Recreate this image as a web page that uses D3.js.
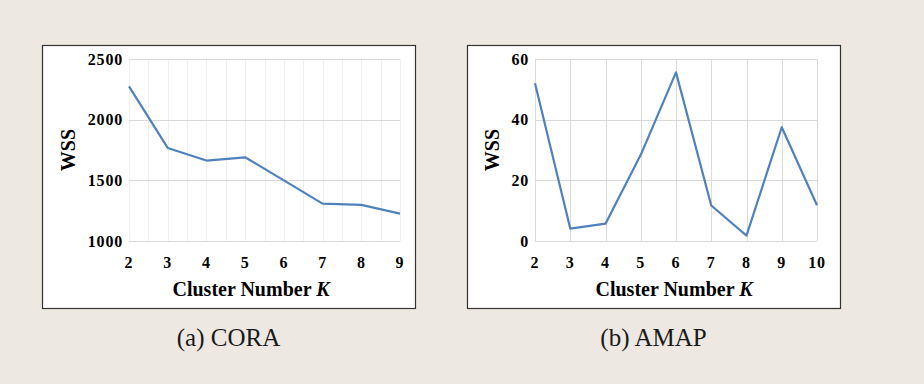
<!DOCTYPE html>
<html lang="en">
<head>
<meta charset="UTF-8">
<script src="https://d3js.org/d3.v7.min.js"></script>
<style>
  body { margin: 0; background: #ede9e2; }
  svg { display: block; }
</style>
</head>
<body>
<div id="chart"></div>
<script>
// data
const coraK = [2, 3, 4, 5, 6, 7, 8, 9];
const coraWSS = [2275, 1767, 1663, 1690, 1500, 1308, 1298, 1226];
const coraYTicks = [1000, 1500, 2000, 2500];

const amapK = [2, 3, 4, 5, 6, 7, 8, 9, 10];
const amapWSS = [52, 4.1, 5.7, 28.4, 55.6, 11.7, 1.8, 37.5, 11.8];
const amapYTicks = [0, 20, 40, 60];

const W = 924, H = 384;
const serif = "'Liberation Serif', 'Times New Roman', serif";
const svg = d3.select("#chart").append("svg")
  .attr("width", W).attr("height", H);

svg.append("rect").attr("width", W).attr("height", H).attr("fill", "#ede9e2");

function panel(opt) {
  const g = svg.append("g");

  // white framed box
  g.append("rect")
    .attr("x", opt.box[0] + 0.5).attr("y", opt.box[1] + 0.5)
    .attr("width", opt.box[2]).attr("height", opt.box[3])
    .attr("fill", "#fff").attr("stroke", "#333").attr("stroke-width", 1.2);

  const x = d3.scaleLinear().domain(d3.extent(opt.k)).range([opt.plot[0], opt.plot[1]]);
  const y = d3.scaleLinear().domain(d3.extent(opt.yTicks)).range([opt.plot[3], opt.plot[2]]);

  // vertical grid
  const vTicks = d3.range(x.domain()[0], x.domain()[1] + 0.001, opt.vStep);
  g.append("g").selectAll("line").data(vTicks).join("line")
    .attr("x1", d => Math.round(x(d)) + 0.5).attr("x2", d => Math.round(x(d)) + 0.5)
    .attr("y1", y.range()[1]).attr("y2", y.range()[0])
    .attr("stroke", opt.vColor).attr("stroke-width", 1);

  // horizontal grid
  g.append("g").selectAll("line").data(opt.yTicks).join("line")
    .attr("x1", x.range()[0]).attr("x2", x.range()[1])
    .attr("y1", d => Math.round(y(d)) + 0.5).attr("y2", d => Math.round(y(d)) + 0.5)
    .attr("stroke", "#d9d9d9").attr("stroke-width", 1);

  // y tick labels
  g.append("g").selectAll("text").data(opt.yTicks).join("text")
    .attr("x", x.range()[0] - 6).attr("y", d => y(d) + 5.5)
    .attr("text-anchor", "end")
    .style("font-family", serif)
    .style("font-weight", "bold").style("font-size", "16px")
    .style("letter-spacing", "0.8px")
    .attr("fill", "#000")
    .text(d => d);

  // x tick labels
  g.append("g").selectAll("text").data(opt.k).join("text")
    .attr("x", d => x(d)).attr("y", y.range()[0] + 27)
    .attr("text-anchor", "middle")
    .style("font-family", serif)
    .style("font-weight", "bold").style("font-size", "16px")
    .style("letter-spacing", "0.8px")
    .attr("fill", "#000")
    .text(d => d);

  // axis titles
  const xt = g.append("text")
    .attr("x", opt.titleX).attr("y", 296)
    .attr("text-anchor", "middle")
    .style("font-family", serif)
    .style("font-weight", "bold").style("font-size", "20px")
    .attr("fill", "#000");
  xt.append("tspan").text("Cluster Number ");
  xt.append("tspan").style("font-style", "italic").text("K");

  g.append("text")
    .attr("transform", `translate(${opt.wssX},${(y.range()[0] + y.range()[1]) / 2}) rotate(-90)`)
    .attr("text-anchor", "middle")
    .style("font-family", serif)
    .style("font-weight", "bold").style("font-size", "20px")
    .attr("fill", "#000")
    .text("WSS");

  // the line
  const line = d3.line().x((d, i) => x(opt.k[i])).y(d => y(d));
  g.append("path").datum(opt.wss)
    .attr("d", line)
    .attr("fill", "none").attr("stroke", "#4f81bd")
    .attr("stroke-width", 2.2).attr("stroke-linejoin", "round");

  // caption
  g.append("text")
    .attr("x", opt.box[0] + opt.box[2] / 2).attr("y", 346)
    .attr("text-anchor", "middle")
    .style("font-family", serif)
    .style("font-size", "25px")
    .attr("fill", "#1a1a1a")
    .text(opt.caption);
}

panel({
  k: coraK, wss: coraWSS, yTicks: coraYTicks,
  box: [42, 45, 373, 263], plot: [129, 400, 59, 241],
  vStep: 0.5, vColor: "#efefef", wssX: 75, titleX: 251, caption: "(a) CORA"
});

panel({
  k: amapK, wss: amapWSS, yTicks: amapYTicks,
  box: [467, 45, 373, 263], plot: [535, 817, 59, 241],
  vStep: 1, vColor: "#dcdcdc", wssX: 499, titleX: 674, caption: "(b) AMAP"
});
</script>
</body>
</html>
